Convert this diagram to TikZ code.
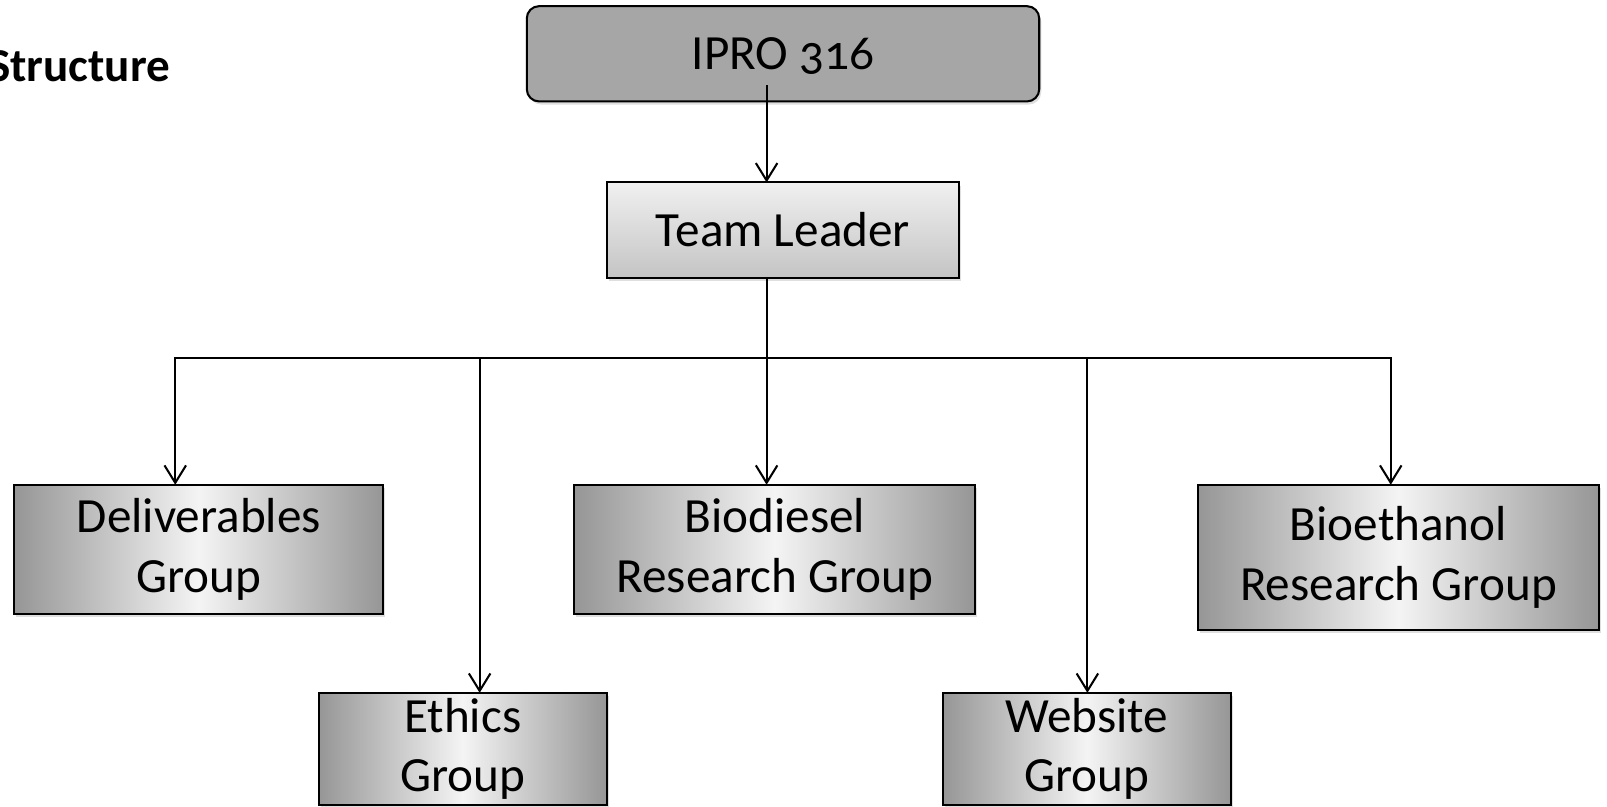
\documentclass[tikz,border=0pt]{standalone}
\usepackage{fontspec}
\setmainfont{Carlito}[Numbers=OldStyle]
\usetikzlibrary{arrows.meta,shadows}
\definecolor{iprogray}{HTML}{A6A6A6}
\definecolor{edgegray}{HTML}{969696}
\definecolor{midgray}{HTML}{F4F4F4}
\definecolor{tltop}{HTML}{F0F0F0}
\definecolor{tlbot}{HTML}{C4C4C4}
\begin{document}
\begin{tikzpicture}[x=1pt,y=-1pt,
  every node/.style={font=\fontsize{48}{58}\selectfont, inner sep=0pt, outer sep=0pt, align=center},
  box/.style={draw=black, line width=2pt, rectangle,
    drop shadow={shadow xshift=2pt, shadow yshift=-3pt, opacity=0.25}},
  grp/.style={box, left color=edgegray, right color=edgegray, middle color=midgray},
  conn/.style={line width=2pt, draw=black},
  arr/.style={conn, -{Straight Barb[length=17pt,width=21pt,line width=2pt]}}
]
\useasboundingbox (0,0) rectangle (1568,787);
\clip (0,0) rectangle (1568,787);

\node[anchor=base east, font=\fontsize{46}{56}\selectfont\bfseries] (title) at (166,80) {Structure};

\node[box, fill=iprogray, rounded corners=12pt, minimum width=500pt, minimum height=93pt, text depth=0pt] (ipro) at (764,52.5) {IPRO 316};
\node[box, top color=tltop, bottom color=tlbot, minimum width=344pt, minimum height=93pt] (tl) at (764,224.5) {Team Leader};
\node[grp, minimum width=360pt, minimum height=126pt] (del) at (194,536) {Deliverables\\Group};
\node[grp, minimum width=391pt, minimum height=126pt] (bd) at (756,536) {Biodiesel\\Research Group};
\node[grp, minimum width=391pt, minimum height=142pt] (be) at (1364.5,544) {Bioethanol\\Research Group};
\node[grp, minimum width=281pt, minimum height=109pt] (eth) at (451.5,730.5) {Ethics\\Group};
\node[grp, minimum width=281pt, minimum height=109pt] (web) at (1060.5,730.5) {Website\\Group};

\coordinate (src) at (748,83);
\coordinate (hub) at (748,349);
\coordinate (jd) at (171,349);
\coordinate (je) at (468,349);
\coordinate (jw) at (1061,349);
\coordinate (jb) at (1357,349);

\draw[arr] (src) -- (src |- tl.north);
\draw[conn] (tl.south -| hub) -- (hub);
\draw[conn, line cap=rect] (jd) -- (jb);
\draw[arr] (jd) -- (jd |- del.north);
\draw[arr] (je) -- (je |- eth.north);
\draw[arr] (hub) -- (hub |- bd.north);
\draw[arr] (jw) -- (jw |- web.north);
\draw[arr] (jb) -- (jb |- be.north);
\end{tikzpicture}
\end{document}
